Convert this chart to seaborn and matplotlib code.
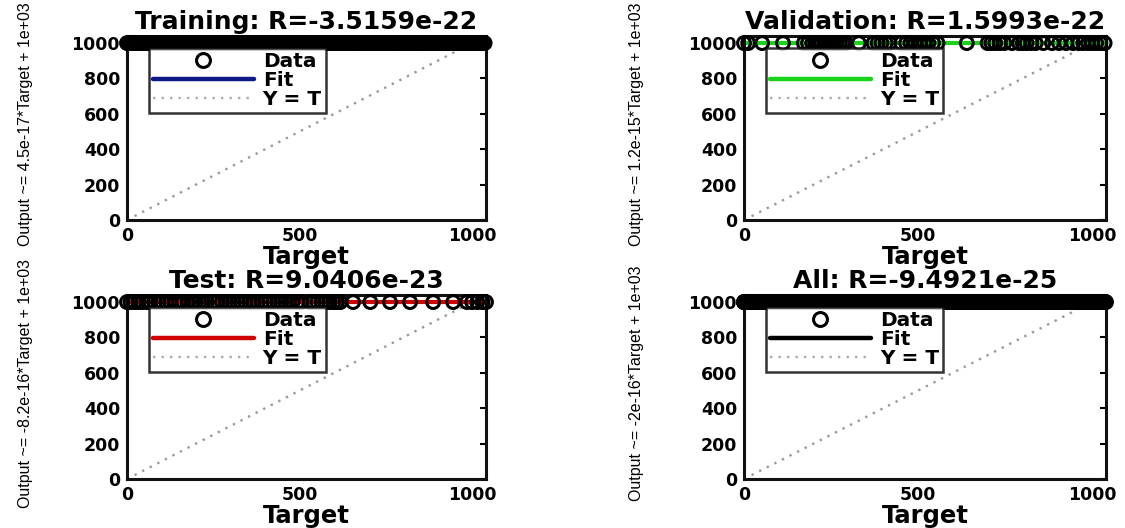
import numpy as np
import pandas as pd
import matplotlib
matplotlib.use("Agg")
import matplotlib.pyplot as plt
from matplotlib.lines import Line2D
import seaborn as sns

# ---- data -------------------------------------------------------------
panel_names = ["Training", "Validation", "Test", "All"]
r_values = ["-3.5159e-22", "1.5993e-22", "9.0406e-23", "-9.4921e-25"]
fit_slopes = [4.5e-17, 1.2e-15, -8.2e-16, -2e-16]
fit_slope_labels = ["4.5e-17", "1.2e-15", "-8.2e-16", "-2e-16"]
fit_intercept = 1e3
fit_colors = ["#0d1a86", "#19d419", "#d00000", "#000000"]

train_targets = [0, 6, 13, 19, 27, 33, 40, 46, 54, 61, 67, 74, 80, 88, 95, 101,
                 108, 115, 121, 129, 136, 142, 149, 156, 162, 170, 177, 183, 190,
                 197, 204, 210, 217, 224, 231, 237, 244, 251, 258, 264, 271, 278,
                 285, 292, 298, 305, 312, 319, 325, 332, 339, 346, 353, 359, 366,
                 373, 380, 386, 393, 400, 407, 414, 420, 427, 434, 441, 447, 454,
                 461, 468, 475, 481, 488, 495, 502, 508, 515, 522, 529, 536, 542,
                 549, 556, 563, 569, 576, 583, 590, 597, 603, 610, 617, 624, 630,
                 637, 644, 651, 658, 664, 671, 678, 685, 691, 698, 705, 712, 719,
                 725, 732, 739, 746, 752, 759, 766, 773, 780, 786, 793, 800, 807,
                 813, 820, 827, 834, 841, 847, 854, 861, 868, 874, 881, 888, 895,
                 902, 908, 915, 922, 929, 935, 942, 949, 956, 963, 969, 976, 983,
                 990, 996, 1003, 1010, 1017, 1024, 1030, 1036]
val_targets = [0, 12, 52, 112, 172, 184, 196, 205, 214, 222, 231, 240, 249, 258,
               266, 275, 284, 292, 330, 372, 384, 395, 407, 418, 452, 466, 478,
               492, 505, 518, 530, 543, 556, 640, 700, 711, 722, 735, 748, 770,
               790, 801, 812, 825, 838, 860, 885, 905, 925, 945, 962, 975, 988,
               1000, 1012, 1024, 1036]
test_targets = [0, 10, 22, 34, 45, 58, 66, 80, 91, 102, 114, 125, 140, 151, 163,
                177, 190, 200, 210, 221, 232, 251, 263, 275, 287, 298, 309, 320,
                331, 342, 354, 365, 378, 390, 401, 412, 424, 436, 447, 458, 469,
                480, 493, 505, 530, 541, 552, 564, 575, 587, 598, 608, 618, 655,
                705, 762, 820, 887, 945, 985, 1000, 1015, 1030, 1040]
all_targets = train_targets + val_targets + test_targets
targets = [train_targets, val_targets, test_targets, all_targets]

# every network output sits at the constant value
output_value = 1000.0

x_ticks = [0, 500, 1000]
y_ticks = [0, 200, 400, 600, 800, 1000]
axis_max = 1040

# ---- style ------------------------------------------------------------
sns.set_style("white")
plt.rcParams["font.family"] = ["DejaVu Sans"]
plt.rcParams["text.color"] = "black"
plt.rcParams["axes.labelcolor"] = "black"
plt.rcParams["xtick.color"] = "black"
plt.rcParams["ytick.color"] = "black"

ylab_family = ["Liberation Sans", "DejaVu Sans"]
dot_style = (0, (1, 2.6))

fig = plt.figure(figsize=(11.25, 5.28), dpi=100)
W, H = 1125.0, 528.0
boxes = [(127, 36, 359, 184), (744, 36, 362, 184),
         (127, 295, 359, 184), (744, 295, 362, 184)]

for i, name in enumerate(panel_names):
    x0, y0, w, h = boxes[i]
    ax = fig.add_axes([x0 / W, 1 - (y0 + h) / H, w / W, h / H])
    t = np.array(targets[i], dtype=float)
    out = np.full_like(t, output_value)
    df = pd.DataFrame({"Target": t, "Output": out})

    # Y = T reference line
    sns.lineplot(x=[0, axis_max], y=[0, axis_max], ax=ax, color="#999999",
                 linestyle=dot_style, linewidth=1.7, zorder=1)
    # fitted line
    fx = np.array([t.min(), t.max()])
    fy = fit_slopes[i] * fx + fit_intercept
    sns.lineplot(x=fx, y=fy, ax=ax, color=fit_colors[i], linewidth=3,
                 zorder=2, clip_on=False)
    # data circles
    sns.scatterplot(data=df, x="Target", y="Output", ax=ax, s=85,
                    linewidth=2.2, zorder=3)
    coll = ax.collections[-1]
    coll.set_facecolor("none")
    coll.set_edgecolor("black")
    coll.set_clip_on(False)

    ax.set_xlim(0, axis_max)
    ax.set_ylim(0, axis_max)
    ax.set_xticks(x_ticks)
    ax.set_yticks(y_ticks)
    ax.tick_params(direction="in", top=True, right=True, length=4, width=1.5,
                   labelsize=12.5, pad=5)
    for lab in ax.get_xticklabels() + ax.get_yticklabels():
        lab.set_fontweight("bold")
    for sp in ax.spines.values():
        sp.set_linewidth(2.2)
        sp.set_color("#111111")

    ax.set_title(f"{name}: R={r_values[i]}", fontsize=18, fontweight="bold",
                 pad=5)
    ax.set_xlabel("Target", fontsize=17.5, fontweight="bold", labelpad=0)
    ax.set_ylabel(f"Output ~= {fit_slope_labels[i]}*Target + 1e+03",
                  fontsize=11.5, family=ylab_family)
    ax.yaxis.set_label_coords(-0.262 if i % 2 == 0 else -0.275, 0.52)

    handles = [
        Line2D([], [], marker="o", linestyle="none", markersize=10,
               markerfacecolor="none", markeredgecolor="black",
               markeredgewidth=2.2),
        Line2D([], [], color=fit_colors[i], linewidth=3.2),
        Line2D([], [], color="#aaaaaa", linestyle=dot_style, linewidth=1.7),
    ]
    leg = ax.legend(handles, ["Data", "Fit", "Y = T"], loc="upper left",
                    bbox_to_anchor=(0.061, 0.935), frameon=True, fancybox=False,
                    handlelength=5.0, handletextpad=0.45, labelspacing=0.0,
                    borderpad=0.2, borderaxespad=0,
                    prop={"weight": "bold", "size": 14.5})
    leg.get_frame().set_edgecolor("black")
    leg.get_frame().set_linewidth(1.8)
    leg.set_zorder(5)

fig.savefig("out.png", dpi=100)
